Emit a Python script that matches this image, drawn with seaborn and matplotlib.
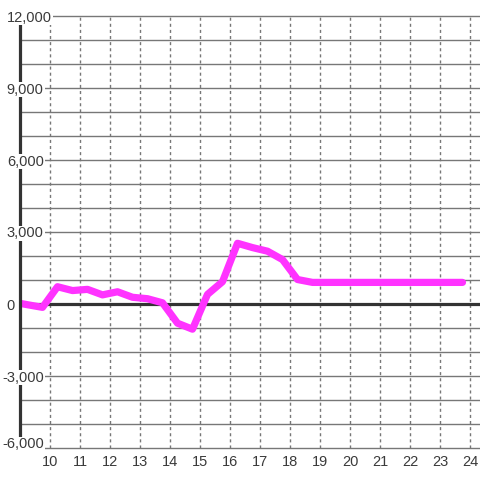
import numpy as np
import pandas as pd
import matplotlib
matplotlib.use('Agg')
import matplotlib.pyplot as plt
import matplotlib.transforms as mtransforms
import seaborn as sns

# dados (hora, valor)
horas = [8.75, 9.25, 9.75, 10.25, 10.75, 11.25, 11.75, 12.25, 12.75, 13.25,
         13.75, 14.25, 14.75, 15.25, 15.75, 16.25, 16.75, 17.25, 17.75, 18.25,
         18.75, 19.25, 19.75, 20.25, 20.75, 21.25, 21.75, 22.25, 22.75, 23.25,
         23.75]
valores = [85, -30, -140, 720, 560, 610, 380, 510, 280, 220,
           50, -800, -1050, 400, 930, 2530, 2350, 2200, 1850, 1020,
           900, 900, 900, 900, 900, 900, 900, 900, 900, 900,
           900]

x_ticks = list(range(10, 25))
y_ticks = [-6000, -3000, 0, 3000, 6000, 9000, 12000]
y_labels = ['-6,000', '-3,000', '0', '3,000', '6,000', '9,000', '12,000']

df = pd.DataFrame({'hora': horas, 'valor': valores})

sns.set_style('white')
plt.rcParams['font.family'] = ['Liberation Sans', 'DejaVu Sans']

fig = plt.figure(figsize=(4.8, 4.8), dpi=100)
ax = fig.add_axes([20/480, 32/480, 460/480, 432/480])

# -----------------------------
#   linhas de grade
# -----------------------------
for v in range(-6000, 12001, 1000):
    ax.axhline(v, color='#777777', lw=1, zorder=1, clip_on=False)
ax.axhline(0, color='#333333', lw=2.3, zorder=1.5)

sns.lineplot(data=df, x='hora', y='valor', color='#ff33ff', lw=5.2,
             ax=ax, zorder=3)

ax.set_xlim(9, 9 + 460/30)
ax.set_ylim(-6000, 12000)
ax.set_axisbelow(True)
ax.grid(axis='x', ls=(0, (2.2, 2.2)), color='#777777', lw=1)
ax.grid(axis='y', visible=False)

ax.set_xticks(x_ticks)
ax.set_xticklabels([str(t) for t in x_ticks])
ax.set_yticks(y_ticks)
ax.set_yticklabels(y_labels)
ax.tick_params(axis='both', length=0, labelsize=10.5, labelcolor='#3a3a3a')
ax.tick_params(axis='x', pad=5)
ax.tick_params(axis='y', pad=9.5)
ax.set_xlabel('')
ax.set_ylabel('')

for s in ['top', 'right', 'bottom']:
    ax.spines[s].set_visible(False)
ax.spines['left'].set_color('#333333')
ax.spines['left'].set_linewidth(2.3)
ax.spines['left'].set_zorder(4)
ax.yaxis.set_zorder(5)

for lbl in ax.get_yticklabels():
    lbl.set_horizontalalignment('left')
    lbl.set_bbox(dict(facecolor='white', edgecolor='none', pad=0.6))
    dx, dy = 0, 0
    if lbl.get_text().startswith('-'):
        dx = -4
    if lbl.get_text() == '-6,000':
        dy = 5
    if dx or dy:
        lbl.set_transform(lbl.get_transform() +
                          mtransforms.ScaledTranslation(dx/100, dy/100, fig.dpi_scale_trans))

fig.savefig('out.png', dpi=100)
